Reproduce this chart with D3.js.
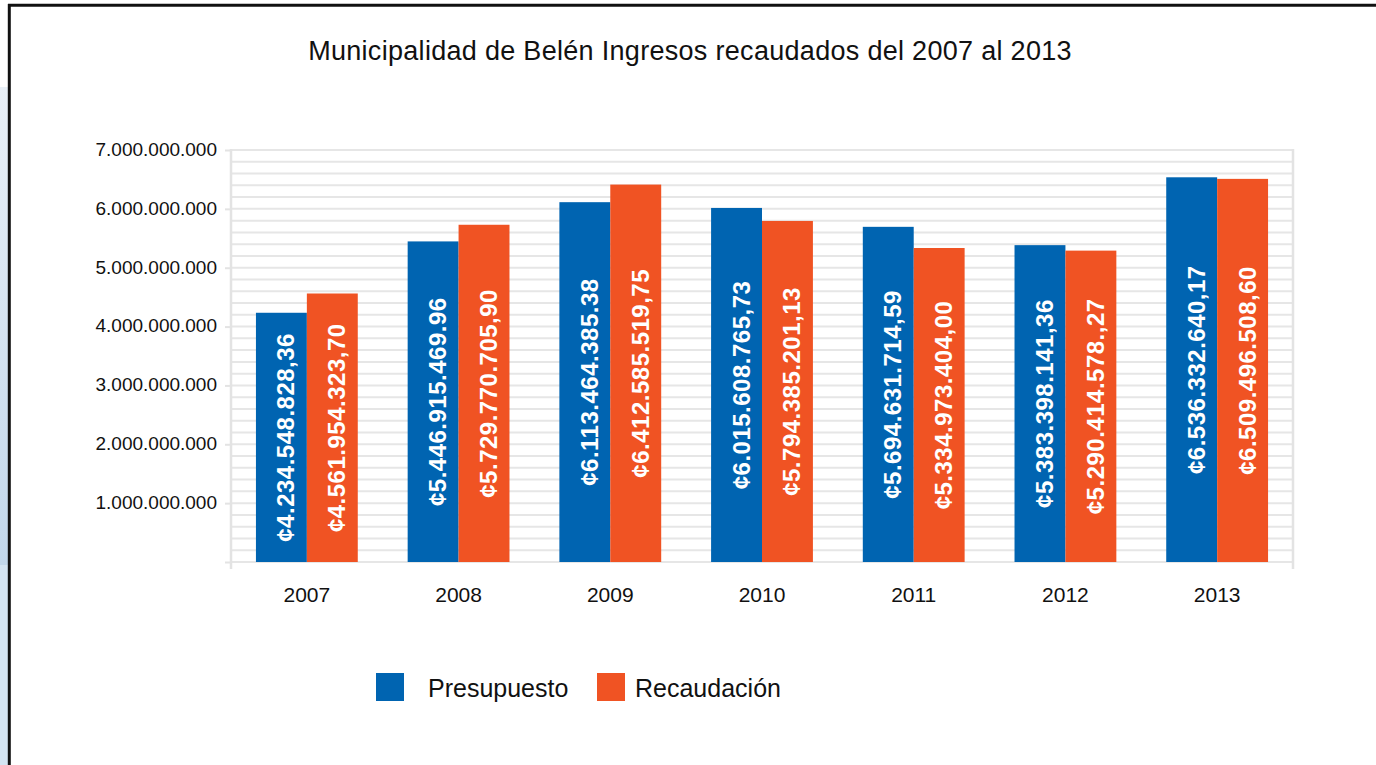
<!DOCTYPE html>
<html>
<head>
<meta charset="utf-8">
<script src="https://cdn.jsdelivr.net/npm/d3@7"></script>
<style>
    body { margin: 0; background: #fff; }
    svg { display: block; font-family: "Liberation Sans", Arial, Helvetica, sans-serif; }
</style>
</head>
<body>
<script>
// data
const years = ["2007", "2008", "2009", "2010", "2011", "2012", "2013"];
const presupuesto = [4234548828.36, 5446915469.96, 6113464385.38, 6015608765.73, 5694631714.59, 5383398141.36, 6536332640.17];
const recaudacion = [4561954323.70, 5729770705.90, 6412585519.75, 5794385201.13, 5334973404.00, 5290414578.27, 6509496508.60];
// labels as printed on the bars (typos kept)
const presupuestoLabels = ["¢4.234.548.828,36", "¢5.446.915.469.96", "¢6.113.464.385.38", "¢6.015.608.765,73", "¢5.694.631.714,59", "¢5.383.398.141,36", "¢6.536.332.640,17"];
const recaudacionLabels = ["¢4.561.954.323,70", "¢5.729.770.705,90", "¢6.412.585.519,75", "¢5.794.385.201,13", "¢5.334.973.404,00", "¢5.290.414.578.,27", "¢6.509.496.508,60"];
const seriesNames = ["Presupuesto", "Recaudación"];
const yTicks = [1e9, 2e9, 3e9, 4e9, 5e9, 6e9, 7e9];
const title = "Municipalidad de Belén Ingresos recaudados del 2007 al 2013";

const colors = ["#0064b1", "#f05323"];
const width = 1376, height = 765;
const plot = { left: 231, right: 1293, top: 150, bottom: 562 };

const svg = d3.select("body").append("svg")
    .attr("width", width)
    .attr("height", height);

// page decoration: light blue strip and black frame
const grad = svg.append("defs").append("linearGradient")
    .attr("id", "strip").attr("x1", 0).attr("y1", 0).attr("x2", 0).attr("y2", 1);
grad.append("stop").attr("offset", "0%").attr("stop-color", "#e9f0f7");
grad.append("stop").attr("offset", "100%").attr("stop-color", "#c2d7eb");
svg.append("rect").attr("x", 0).attr("y", 87).attr("width", 8).attr("height", 478).attr("fill", "url(#strip)");
svg.append("rect").attr("x", 0).attr("y", 565).attr("width", 8).attr("height", 200).attr("fill", "#d4e4f2");
svg.append("line").attr("x1", 8).attr("x2", width).attr("y1", 5.3).attr("y2", 5.3)
    .attr("stroke", "#111").attr("stroke-width", 3);
svg.append("line").attr("x1", 9.3).attr("x2", 9.3).attr("y1", 4).attr("y2", height)
    .attr("stroke", "#111").attr("stroke-width", 3);

// scales
const x0 = d3.scaleBand().domain(years).range([plot.left, plot.right]);
const x1 = d3.scaleBand().domain(seriesNames).range([0, x0.bandwidth()])
    .paddingInner(0).paddingOuter(0.49);
const y = d3.scaleLinear().domain([0, 7e9]).range([plot.bottom, plot.top]);

const locale = d3.formatLocale({ decimal: ",", thousands: ".", grouping: [3], currency: ["", ""] });
const fmt = locale.format(",d");

// minor gridlines every 200 millones
svg.append("g")
    .selectAll("line")
    .data(d3.range(0, 7e9 + 1, 2e8))
    .join("line")
    .attr("x1", plot.left).attr("x2", plot.right)
    .attr("y1", d => y(d)).attr("y2", d => y(d))
    .attr("stroke", "#e6e6e6").attr("stroke-width", 2);

// side lines of the plot area
svg.append("line").attr("x1", plot.left).attr("x2", plot.left)
    .attr("y1", plot.top - 1).attr("y2", plot.bottom + 7)
    .attr("stroke", "#e3e3e3").attr("stroke-width", 2.5);
svg.append("line").attr("x1", plot.right).attr("x2", plot.right)
    .attr("y1", plot.top - 1).attr("y2", plot.bottom + 7)
    .attr("stroke", "#e3e3e3").attr("stroke-width", 2.5);

// y axis
const yAxis = svg.append("g")
    .attr("transform", "translate(" + plot.left + ",0)")
    .call(d3.axisLeft(y).tickValues([0].concat(yTicks)).tickSize(6).tickPadding(8)
        .tickFormat(d => d === 0 ? "" : fmt(d)));
yAxis.select(".domain").remove();
yAxis.selectAll(".tick line").attr("stroke", "#e3e3e3").attr("stroke-width", 2);
yAxis.selectAll(".tick text")
    .attr("font-size", 19)
    .attr("fill", "#111")
    .attr("dy", "0.28em")
    .attr("font-family", "Liberation Sans, Arial, sans-serif");

// x axis labels
svg.append("g")
    .selectAll("text")
    .data(years)
    .join("text")
    .attr("x", d => x0(d) + x0.bandwidth() / 2)
    .attr("y", 602)
    .attr("text-anchor", "middle")
    .attr("font-size", 21)
    .attr("fill", "#111")
    .text(d => d);

// bars
const rows = years.map((yr, i) => ({
    year: yr,
    values: [
        { key: seriesNames[0], v: presupuesto[i], label: presupuestoLabels[i], c: colors[0] },
        { key: seriesNames[1], v: recaudacion[i], label: recaudacionLabels[i], c: colors[1] }
    ]
}));

const groups = svg.append("g")
    .selectAll("g")
    .data(rows)
    .join("g")
    .attr("transform", d => "translate(" + x0(d.year) + ",0)");

groups.selectAll("rect")
    .data(d => d.values)
    .join("rect")
    .attr("x", d => x1(d.key))
    .attr("y", d => y(d.v))
    .attr("width", x1.bandwidth())
    .attr("height", d => y(0) - y(d.v))
    .attr("fill", d => d.c);

// rotated value labels, centred in each bar
groups.selectAll("text")
    .data(d => d.values)
    .join("text")
    .attr("transform", d => "translate(" + (x1(d.key) + x1.bandwidth() / 2 + 13) + "," + (y(d.v) + y(0)) / 2 + ") rotate(-90)")
    .attr("text-anchor", "middle")
    .attr("font-size", 24)
    .attr("font-weight", "bold")
    .attr("letter-spacing", 0.5)
    .attr("fill", "#fff")
    .text(d => d.label);

// title
svg.append("text")
    .attr("x", 690)
    .attr("y", 60)
    .attr("text-anchor", "middle")
    .attr("font-size", 27)
    .attr("letter-spacing", 0.3)
    .attr("fill", "#111")
    .text(title);

// legend
const legend = svg.append("g")
    .selectAll("g")
    .data(seriesNames)
    .join("g")
    .attr("transform", (d, i) => "translate(" + [376, 597][i] + ",673)");
legend.append("rect")
    .attr("width", 28).attr("height", 28)
    .attr("fill", (d, i) => colors[i]);
legend.append("text")
    .attr("x", (d, i) => [52, 38][i])
    .attr("y", 24)
    .attr("font-size", 25)
    .attr("fill", "#111")
    .text(d => d);
</script>
</body>
</html>
